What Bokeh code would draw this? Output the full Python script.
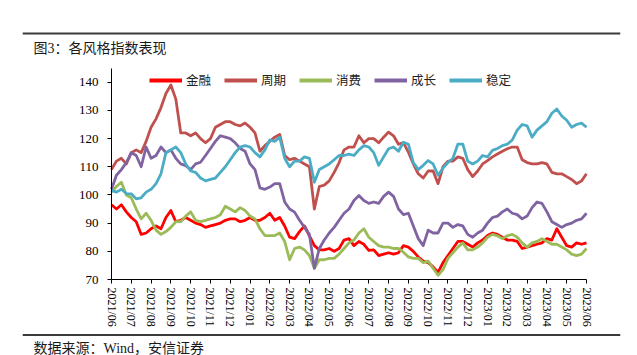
import math
import numpy as np
from bokeh.plotting import figure
from bokeh.models import (ColumnDataSource, Legend, LegendItem, Label, Span,
                          FixedTicker, Range1d)
from bokeh.embed import file_html
from bokeh.resources import INLINE

# ---------------- data (quarter-month steps, 2021/06 .. 2023/06) ----------------
month_labels = ["2021/06", "2021/07", "2021/08", "2021/09", "2021/10", "2021/11", "2021/12",
                "2022/01", "2022/02", "2022/03", "2022/04", "2022/05", "2022/06",
                "2022/07", "2022/08", "2022/09", "2022/10", "2022/11", "2022/12",
                "2023/01", "2023/02", "2023/03", "2023/04", "2023/05", "2023/06"]

jinrong = [96.5, 95, 96.5, 94, 92, 90.5, 86, 86.5, 88, 89, 88, 92, 94.5, 90.5, 91, 92, 91, 90, 89.5, 88.5, 89, 89.5, 90, 91, 91.5,
           91.5, 90.5, 91, 92, 91, 91, 92, 93.5, 91, 92, 89, 85, 84.5, 87, 89, 85.5, 82, 80.5, 80.5, 81, 80, 81, 84, 84.5,
           82, 83.5, 82.5, 80.3, 80.5, 78.5, 79, 79.5, 79, 79.5, 82, 81.5, 80, 78, 76.5, 76, 74.5, 72.5, 76, 78.5, 81, 83.5, 83.5, 82.5,
           81.5, 83, 84, 85.6, 86.5, 86, 85, 84, 84, 83.5, 81, 81.5, 82, 82.5, 83, 84.5, 84, 88, 85, 82, 81.5, 83, 82.5, 83]

zhouqi = [109, 112, 113, 111, 115, 116, 115, 119, 124, 127, 131, 136, 139, 134, 122, 122, 121, 122, 120, 118.5, 120, 124, 125, 126, 126,
          125, 124.5, 125.5, 124, 122, 115.5, 117.5, 119, 120.5, 121.5, 114, 112.5, 113, 112, 111, 110, 95, 103, 103.5, 105, 108, 111.5, 116, 117,
          117, 121, 118.5, 120, 120, 118.5, 120.5, 122.3, 121, 118, 118.5, 115.2, 111, 107.5, 106, 108.5, 108.5, 104, 110, 112, 112, 113.5, 113, 109,
          106.5, 108.5, 111, 112.2, 113.5, 114.5, 115.5, 116.4, 117, 117, 112.5, 111.5, 111, 111, 111.5, 111, 108, 107.5, 107.5, 106.5, 105.5, 104, 105, 107.5]

xiaofei = [101, 103, 104.5, 100, 99, 95, 91.5, 93.5, 91, 87.5, 86, 87, 88.5, 90.5, 90.5, 92.5, 94, 91, 90.5, 91, 91.5, 92, 93, 96, 95,
           94, 95.5, 94.5, 92.5, 91.5, 88, 85.6, 85.6, 85.6, 86.5, 83.5, 77, 81, 81.5, 80.5, 78.5, 74, 77, 77, 77.5, 77.5, 79, 81, 83,
           84, 86.5, 88, 85, 83.5, 82, 81.5, 81.5, 81, 81, 79.7, 78, 77.5, 77.5, 76, 76.5, 74, 71.5, 73.5, 77.5, 79.5, 81.5, 83, 80.5,
           80.5, 81.5, 83, 85, 86, 85.5, 84.5, 85.5, 86, 85, 83, 81.5, 83, 83.5, 84.5, 83.5, 82.5, 82.5, 81.5, 80.5, 79, 78.5, 79, 81]

chengzhang = [102, 107, 109, 111.5, 115, 114, 110, 117, 113, 114, 117, 115, 116, 113, 111, 110.4, 109, 111, 111.6, 114, 116.5, 119, 121, 120.5, 120,
              118.5, 116.5, 115.5, 111, 109, 102.5, 102, 102.8, 104, 104, 97.5, 95, 93.9, 91, 88.5, 86, 74, 81, 84, 86.5, 88.5, 91, 93.5, 95,
              98, 99.8, 98, 97, 97.5, 97, 99.5, 101, 99.5, 95, 93, 93.5, 89, 84.5, 82, 87.5, 86.5, 86.5, 90, 90, 88.5, 89.5, 89, 86,
              85, 86.5, 87.5, 90, 92, 92.5, 94, 95, 93.5, 93, 91.5, 92.5, 95.5, 97.5, 97, 94, 90.5, 89.5, 88.5, 89.5, 90, 91, 91.5, 93.5]

wending = [101.6, 101, 102, 100.5, 100.4, 98.6, 99, 101, 102, 104, 107.5, 115, 116, 117, 115, 111, 108.5, 108, 106, 105, 105.5, 106, 108, 110, 112.5,
           115, 117, 117.5, 117, 115, 113.5, 116, 119.5, 119, 120.5, 113, 110, 112, 112, 113.5, 113, 104.5, 109, 110, 111, 112.5, 114, 114, 114.5,
           114, 116, 117.5, 117, 115, 110.5, 113.5, 116.4, 117, 115.5, 118.7, 118, 111.5, 109, 110.5, 112.2, 111, 107, 109.5, 111.5, 113, 118, 118, 112,
           111, 112, 114, 113.5, 115.8, 116.5, 117.5, 118, 119.5, 123, 125, 124.5, 120.5, 123, 124.5, 126, 129, 130.5, 128, 126.5, 124, 125, 125.5, 124]

series_names = ["金融", "周期", "消费", "成长", "稳定"]
series_values = [jinrong, zhouqi, xiaofei, chengzhang, wending]
series_colors = ["#FF0000", "#C0504D", "#9BBB59", "#8064A2", "#4BACC6"]
y_ticks = [70, 80, 90, 100, 110, 120, 130, 140]
y_min, y_max = 70, 145

title_text = "图3：各风格指数表现"
source_text = "数据来源：Wind，安信证券"

n = len(jinrong)
x = np.arange(n) / 4.0  # quarter-month positions
n_months = len(month_labels) - 1

# ---------------- layout (pixels) ----------------
W, H = 637, 355
FRAME_L, FRAME_R = 22, 620           # frame spans the rule width
AX_L, AX_R = 111, 586                # plot-axis extent
AX_TOP_PX, AX_BOT_PX = 81.7, 279     # y=140 and y=70 positions
pxx = (AX_R - AX_L) / n_months
pxy = (AX_BOT_PX - AX_TOP_PX) / (140 - 70)
x_start = 0 - (AX_L - FRAME_L) / pxx
x_end = n_months + (FRAME_R - AX_R) / pxx
y_start = 70 - (H - AX_BOT_PX) / pxy
y_end = 70 + AX_BOT_PX / pxy

CJK = "Noto Sans CJK SC"
SERIF = "Liberation Serif"
MIXED = "Liberation Serif, Noto Sans CJK SC"

p = figure(width=W, height=H, output_backend="svg", toolbar_location=None,
           x_range=Range1d(x_start, x_end), y_range=Range1d(y_start, y_end),
           min_border_left=FRAME_L, min_border_right=W - FRAME_R,
           min_border_top=0, min_border_bottom=0)
p.outline_line_color = None
p.xgrid.visible = False
p.ygrid.visible = False
p.background_fill_color = "white"
p.border_fill_color = "white"

items = []
for name, vals, col in zip(series_names, series_values, series_colors):
    src = ColumnDataSource(dict(x=x, y=vals))
    p.line("x", "y", source=src, line_color=col, line_width=2.8, line_join="round")
    proxy = p.line("x", "y", source=src, line_color=col, line_width=4, visible=False)
    items.append(LegendItem(label=name, renderers=[proxy]))

# axes drawn at fixed data locations (inside the frame)
yax = p.yaxis[0]
yax.fixed_location = 0
yax.bounds = (y_min, y_max)
yax.ticker = FixedTicker(ticks=y_ticks)
yax.major_label_text_font = SERIF
yax.major_label_text_font_size = "13px"
yax.major_label_text_color = "black"
yax.axis_line_color = "black"
yax.major_tick_line_color = "black"
yax.major_tick_out = 4
yax.major_tick_in = 0
yax.minor_tick_line_color = None
yax.major_label_standoff = 9

xax = p.xaxis[0]
xax.fixed_location = y_min
xax.bounds = (0, n_months)
xax.ticker = FixedTicker(ticks=list(range(len(month_labels))))
xax.major_label_overrides = {i: lab for i, lab in enumerate(month_labels)}
xax.major_label_orientation = -math.pi / 2
xax.major_label_text_font = SERIF
xax.major_label_text_font_size = "12px"
xax.major_label_text_color = "black"
xax.axis_line_color = "black"
xax.major_tick_line_color = "black"
xax.major_tick_out = 4
xax.major_tick_in = 0
xax.minor_tick_line_color = None
xax.major_label_standoff = 4

# legend
legend = Legend(items=items, orientation="horizontal", location=(149 - FRAME_L, H - 82 - 7),
                glyph_width=33, glyph_height=14, label_height=14, label_width=20,
                label_standoff=4, spacing=13, padding=0, margin=0,
                border_line_color=None, background_fill_alpha=0,
                label_text_font=CJK, label_text_font_size="12.5px", label_text_color="#222222")
p.add_layout(legend, "center")

# title, source, rules (screen units relative to frame bottom-left)
p.add_layout(Label(x=33 - FRAME_L, y=H - 48, x_units="screen", y_units="screen", text=title_text,
                   text_font=MIXED, text_font_size="14px", text_color="#1a1a1a",
                   text_baseline="middle", text_align="left"))
p.add_layout(Label(x=33 - FRAME_L, y=H - 347.5, x_units="screen", y_units="screen", text=source_text,
                   text_font=MIXED, text_font_size="14px", text_color="#1a1a1a",
                   text_baseline="middle", text_align="left"))
for py in (33, 334.5):
    p.add_layout(Span(location=H - py, location_units="screen", dimension="width",
                      line_color="#3a3a3a", line_width=2))

open("out.html", "w").write(file_html(p, INLINE))
